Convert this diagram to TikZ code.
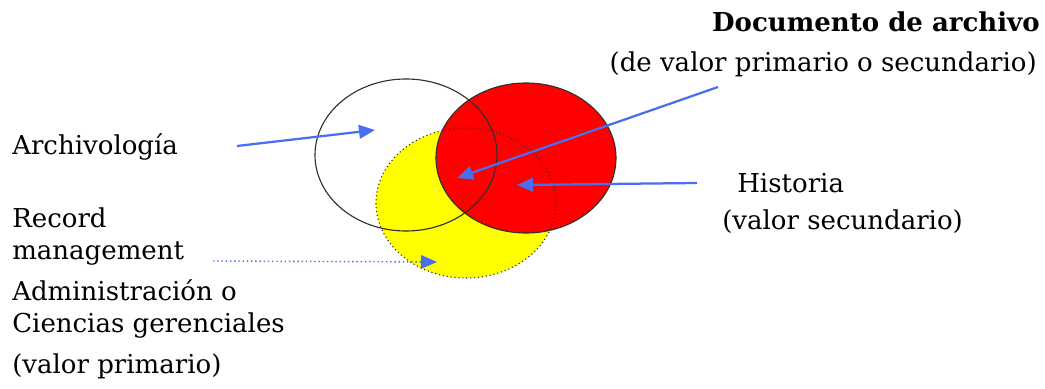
\documentclass[tikz,border=0pt]{standalone}
\usepackage{fontspec}
\setmainfont{DejaVu Serif}
\usepackage{tikz}
\usetikzlibrary{shapes.geometric,arrows.meta,positioning}
\definecolor{pointer}{HTML}{4A6EF0}
\definecolor{hist}{HTML}{FF0000}
\definecolor{admin}{HTML}{FFFF00}
\definecolor{edge}{HTML}{303030}

\begin{document}
\begin{tikzpicture}[
    x=0.025cm, y=0.025cm,
    set/.style={ellipse, inner sep=0pt, minimum width=4.5cm, minimum height=3.75cm},
    lbl/.style={font=\fontsize{18.5}{22}\selectfont, inner sep=0pt},
    arr/.style={-{Triangle[length=4mm,width=3.4mm]}, draw=pointer, line width=1.6pt},
    darr/.style={-{Triangle[length=4mm,width=3.4mm]}, draw=pointer, line width=1pt, dotted}
]
\useasboundingbox (0,0) rectangle (1045,388);
% conjuntos
\node[set, fill=admin] (adm) at (466,185) {};
\node[set, fill=hist] (his) at (526,230) {};
\node[set, minimum width=4.55cm, minimum height=3.8cm] (arc) at (406,233) {};
\draw[edge, line width=0.8pt] (his.center) ellipse [x radius=90, y radius=75];
\draw[edge, line width=0.8pt] (arc.center) ellipse [x radius=91, y radius=76];
\draw[edge, line width=0.8pt, dotted] (adm.center) ellipse [x radius=90, y radius=75];
% textos
\node[lbl, anchor=west] (tarc) at (12,241) {Archivología};
\node[lbl, anchor=east, font=\fontsize{18.5}{22}\selectfont\bfseries] (tdoc) at (1040,366) {Documento de archivo};
\node[lbl, anchor=east] (tdoc2) at (1037,324) {(de valor primario o secundario)};
\node[lbl, anchor=west] (this) at (737,205) {Historia};
\node[lbl, anchor=west] (this2) at (722,166) {(valor secundario)};
\node[lbl, anchor=west] (trec) at (12,170) {Record};
\node[lbl, anchor=west] (trec2) at (12,134) {management};
\node[lbl, anchor=west] (tadm) at (12,98) {Administración o};
\node[lbl, anchor=west] (tadm2) at (12,62) {Ciencias gerenciales};
\node[lbl, anchor=west] (tadm3) at (12,22) {(valor primario)};
% flechas
\coordinate (parc) at (375,258);
\coordinate (pdoc) at (457,210);
\coordinate (phis) at (517,203);
\coordinate (padm) at (437,126);
\coordinate (sarc) at (237,242);
\coordinate (sdoc) at (718,301);
\coordinate (shis) at (697,205);
\coordinate (sadm) at (213,127);
\draw[arr] (sarc) -- (parc);
\draw[arr] (sdoc) -- (pdoc);
\draw[arr] (shis) -- (phis);
\draw[darr] (sadm) -- (padm);
\end{tikzpicture}
\end{document}
